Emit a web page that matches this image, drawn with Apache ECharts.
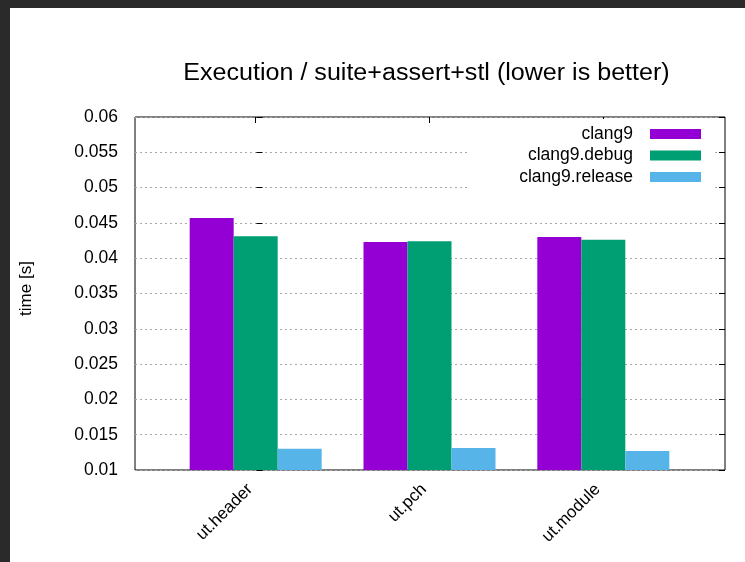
<!DOCTYPE html>
<html>
<head>
<meta charset="utf-8">
<script src="https://cdn.jsdelivr.net/npm/echarts@6/dist/echarts.min.js"></script>
<style>
  html, body { margin: 0; padding: 0; background: #2a2a2a; width: 745px; height: 562px; overflow: hidden; }
  #chart { position: absolute; left: 10px; top: 8px; width: 735px; height: 554px; background: #ffffff; }
</style>
</head>
<body>
<div id="chart"></div>
<script>
// Benchmark execution time per build setup (seconds)
const categories = ['ut.header', 'ut.pch', 'ut.module'];
const seriesNames = ['clang9', 'clang9.debug', 'clang9.release'];
const clang9 = [0.0457, 0.0423, 0.0430];
const clang9Debug = [0.0431, 0.0424, 0.0426];
const clang9Release = [0.0130, 0.0131, 0.0127];
const yTickLabels = ['0.01', '0.015', '0.02', '0.025', '0.03', '0.035', '0.04', '0.045', '0.05', '0.055', '0.06'];
const yMin = 0.01, yMax = 0.06, yStep = 0.005;

const colors = ['#9400d3', '#009e73', '#56b4e9'];
const FONT = '"Liberation Sans", Arial, sans-serif';

const chart = echarts.init(document.getElementById('chart'), null, { renderer: 'canvas' });

const tickFmt = v => yTickLabels[Math.round((v - yMin) / yStep)] || '';

const plotTop = 109, plotH = 353, plotLeft = 124, plotW = 591;
const band = plotW / 3.4;

const option = {
  backgroundColor: '#ffffff',
  animation: false,
  textStyle: { fontFamily: FONT },
  graphic: [
    {
      type: 'text',
      x: 416.5, y: 66,
      scaleX: 1.09,
      style: {
        text: 'Execution / suite+assert+stl (lower is better)',
        font: '23px ' + FONT,
        fill: '#000',
        textAlign: 'center',
        textVerticalAlign: 'middle'
      }
    }
  ],
  grid: [
    { left: plotLeft, top: plotTop, width: plotW, height: plotH, show: true, borderColor: '#000', borderWidth: 1, backgroundColor: 'transparent' },
    { left: plotLeft + 0.2 * band, top: plotTop, width: 3 * band, height: plotH }
  ],
  xAxis: [
    { gridIndex: 0, type: 'value', min: -0.7, max: 2.7, show: false },
    {
      gridIndex: 1, type: 'category', data: categories, position: 'bottom',
      axisLine: { show: false },
      axisTick: { show: true, inside: true, alignWithLabel: true, length: 6, lineStyle: { color: '#000' } },
      axisLabel: { rotate: 45, margin: 11, fontSize: 17, color: '#000', fontFamily: FONT, interval: 0, padding: [0, 8, 0, 0] },
      splitLine: { show: false }
    },
    {
      gridIndex: 1, type: 'category', data: categories, position: 'top',
      axisLine: { show: false },
      axisTick: { show: true, inside: true, alignWithLabel: true, length: 6, lineStyle: { color: '#000' } },
      axisLabel: { show: false },
      splitLine: { show: false }
    }
  ],
  yAxis: [
    {
      gridIndex: 0, type: 'value', min: yMin, max: yMax, interval: yStep, position: 'left',
      name: 'time [s]', nameLocation: 'middle', nameGap: 100, nameRotate: 90,
      nameTextStyle: { fontSize: 17, color: '#000', fontFamily: FONT, padding: [0, 0, 0, 10] },
      axisLine: { show: false },
      axisTick: { show: true, inside: true, length: 6, lineStyle: { color: '#000' } },
      axisLabel: { margin: 17, fontSize: 17.5, color: '#000', fontFamily: FONT, formatter: tickFmt },
      splitLine: { show: true, lineStyle: { color: '#a8a8a8', type: [2, 3], width: 1 } }
    },
    {
      gridIndex: 0, type: 'value', min: yMin, max: yMax, interval: yStep, position: 'right',
      axisLine: { show: false },
      axisTick: { show: true, inside: true, length: 6, lineStyle: { color: '#000' } },
      axisLabel: { show: false },
      splitLine: { show: false }
    },
    { gridIndex: 1, type: 'value', min: yMin, max: yMax, show: false }
  ],
  legend: {
    orient: 'vertical', align: 'right',
    right: 30, top: 111,
    padding: [6, 14, 8, 51],
    backgroundColor: '#ffffff',
    itemWidth: 51, itemHeight: 10, itemGap: 3.5,
    icon: 'rect',
    selectedMode: false,
    textStyle: { fontSize: 17.5, color: '#000', fontFamily: FONT, padding: [0, 12, 0, 0] },
    data: seriesNames
  },
  series: [clang9, clang9Debug, clang9Release].map((vals, i) => ({
    name: seriesNames[i],
    type: 'bar',
    xAxisIndex: 1, yAxisIndex: 2,
    barWidth: 44, barGap: '0%',
    itemStyle: { color: colors[i] },
    data: vals
  }))
};

chart.setOption(option);
</script>
</body>
</html>
